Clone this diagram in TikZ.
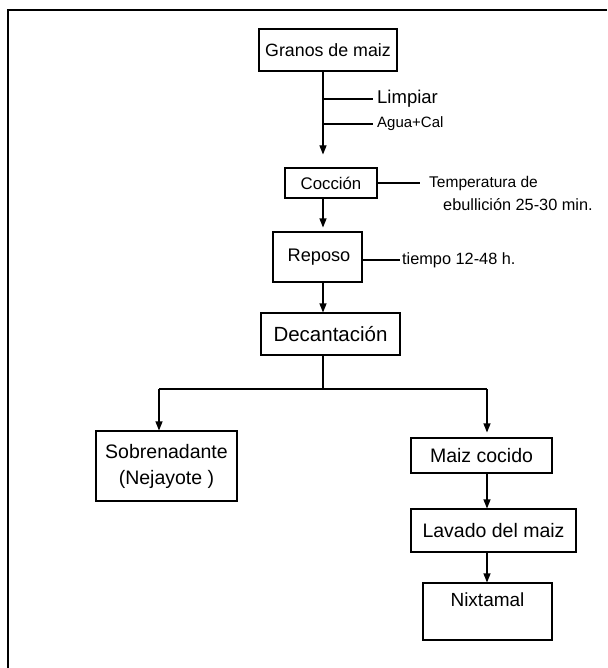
\documentclass[tikz,border=0pt]{standalone}
\usepackage{fontspec}
\setmainfont{Liberation Sans}
\usetikzlibrary{arrows.meta}
\newcommand{\fsz}[1]{\fontsize{#1}{26}\selectfont}
\begin{document}
\begin{tikzpicture}[x=1pt,y=-1pt,
  box/.style={draw, line width=1.1pt, inner sep=0pt, font=\fsz{19.5}},
  lbl/.style={inner sep=0pt, anchor=west},
  small/.style={font=\fontsize{16.3}{18}\selectfont},
  conn/.style={line width=1.1pt},
  arr/.style={conn, -{Triangle[length=9pt,width=7pt]}}]
\useasboundingbox (0,0) rectangle (607,668);
\draw[line width=1.4pt] (607,10) -- (8,10) -- (8,668);
% process boxes
\node[box, font=\fsz{17.8}, minimum width=138pt, minimum height=42pt] (granos) at (328,50) {Granos de maiz};
\node[box, font=\fsz{16.8}, minimum width=92pt, minimum height=30pt] (coccion) at (331,183) {Cocción};
\node[box, font=\fsz{18.2}, minimum width=89pt, minimum height=50pt] (reposo) at (317.5,257) {\hspace*{3pt}Reposo};
\node[box, font=\fsz{20.5}, minimum width=139pt, minimum height=42pt] (decant) at (330.5,334) {Decantación};
\node[box, align=center, minimum width=141pt, minimum height=70pt] (sobre) at (166.5,466) {Sobrenadante\\(Nejayote )};
\node[box, minimum width=141pt, minimum height=35pt] (maiz) at (481.5,455.5) {Maiz cocido};
\node[box, minimum width=165pt, minimum height=43pt] (lavado) at (493.5,530.5) {Lavado del maiz};
\node[box, font=\fsz{19}, minimum width=129pt, text height=23.5pt, text depth=33.5pt] (nixt) at (487.5,611.5) {Nixtamal};
% side labels
\node[lbl, font=\fontsize{18.5}{20}\selectfont] (limp) at (377,99) {Limpiar};
\node[lbl, font=\fontsize{15}{18}\selectfont] (agua) at (377,124) {Agua+Cal};
\node[lbl, font=\fontsize{15.5}{18}\selectfont] (temp1) at (429,183) {Temperatura de};
\node[lbl, small] (temp2) at (443,205) {ebullición 25-30 min.};
\node[lbl, small] (tiempo) at (402,260) {tiempo 12-48 h.};
% coordinates
\coordinate (sp) at (323,0);
\coordinate (L) at (159,389);
\coordinate (R) at (487,389);
% connectors
\draw[arr, shorten >=13pt] (granos.south -| sp) -- (coccion.north -| sp);
\draw[conn] (sp |- limp) -- ([xshift=-4pt]limp.west);
\draw[conn] (sp |- agua) -- ([xshift=-4pt]agua.west);
\draw[conn] (coccion.east) -- ([xshift=-9pt]temp1.west);
\draw[arr, shorten >=4pt] (coccion.south -| sp) -- (reposo.north -| sp);
\draw[conn] (reposo.east |- tiempo) -- ([xshift=-2pt]tiempo.west);
\draw[arr] (reposo.south -| sp) -- (decant.north -| sp);
\draw[conn] (decant.south -| sp) -- (L -| sp);
\draw[conn] (L) -- (R);
\draw[arr] (L) -- (L |- sobre.north);
\draw[arr, shorten >=5pt] (R) -- (R |- maiz.north);
\draw[arr] (maiz.south -| R) -- (lavado.north -| R);
\draw[arr] (lavado.south -| R) -- (nixt.north -| R);
\end{tikzpicture}
\end{document}
